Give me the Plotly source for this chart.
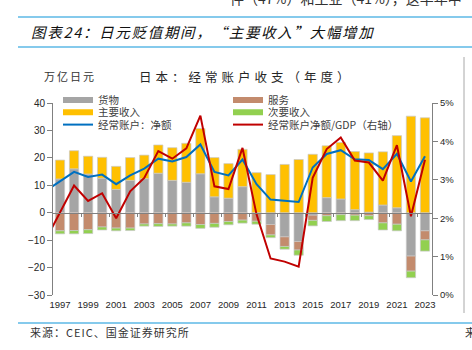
import plotly.graph_objects as go

# ---------------- data (trillion yen; ratio in %) ----------------
years = list(range(1997, 2024))
goods = [12.3, 16.0, 14.1, 12.6, 8.5, 11.8, 12.4, 14.4, 11.8, 11.1, 14.2, 5.8, 5.3, 9.5,
         -0.3, -4.3, -8.8, -10.5, -0.9, 5.5, 5.0, 1.1, 0.2, 2.8, 1.8, -15.8, -6.6]
services = [-6.6, -6.5, -6.2, -5.2, -5.6, -5.6, -4.1, -4.0, -4.1, -3.7, -4.3, -3.9, -3.2, -2.7,
            -2.8, -3.8, -3.5, -3.1, -1.9, -1.1, -0.7, -0.9, -1.1, -3.7, -4.2, -5.5, -3.3]
primary = [6.9, 6.6, 6.5, 7.6, 8.4, 8.3, 8.6, 10.3, 11.9, 14.2, 16.5, 14.3, 12.6, 13.6,
           14.6, 13.9, 17.6, 19.4, 21.3, 18.9, 20.6, 21.2, 21.6, 19.4, 26.3, 35.2, 34.6]
secondary = [-1.1, -1.2, -1.4, -1.1, -1.0, -0.9, -0.8, -1.0, -0.8, -1.2, -1.4, -1.4, -1.2, -1.1,
             -1.1, -1.0, -1.0, -1.9, -2.0, -2.1, -2.2, -2.0, -1.4, -2.6, -2.4, -2.4, -4.1]

line_years = list(range(1996, 2024))
ca_net = [8.0, 11.5, 14.9, 13.0, 13.9, 10.4, 13.6, 16.1, 19.7, 18.7, 20.3, 24.9, 14.9, 13.6,
          19.4, 10.4, 4.8, 4.4, 3.9, 16.5, 21.4, 22.8, 19.5, 19.2, 15.9, 21.5, 11.4, 20.6]
ca_gdp = [1.45, 2.15, 2.85, 2.45, 2.65, 2.0, 2.7, 3.05, 3.75, 3.55, 3.82, 4.67, 2.83, 2.76,
          3.83, 2.1, 0.95, 0.87, 0.74, 3.05, 3.8, 4.1, 3.5, 3.45, 2.98, 3.9, 2.05, 3.52]

label_years = years[::2]
boundaries = [y + 0.5 for y in years[1::2]]

names = ["货物", "服务", "主要收入", "次要收入", "经常账户：净额", "经常账户净额/GDP（右轴）"]
C_GOODS, C_SERV, C_PRIM, C_SEC = "#A5A5A5", "#C38B6D", "#FFC000", "#92D050"
C_CA, C_RATIO = "#0070C0", "#C00000"

# ---------------- geometry helpers ----------------
L, R, T, B = 53, 432, 103, 295
W, H = 472, 350
def fx(px):
    return (px - L) / (R - L)
def fy(py):
    return (B - py) / (B - T)

CJK = "Noto Sans CJK SC"
NUM = "Liberation Sans, Noto Sans CJK SC"

fig = go.Figure()
bar_line = dict(color="#C8C8C8", width=0.7)
for vals, col in [(goods, C_GOODS), (primary, C_PRIM), (services, C_SERV), (secondary, C_SEC)]:
    fig.add_trace(go.Bar(x=years, y=vals, width=0.66, showlegend=False,
                         marker=dict(color=col, line=bar_line), hoverinfo="skip"))

fig.add_trace(go.Scatter(x=line_years, y=ca_net, mode="lines", name=names[4],
                         line=dict(color=C_CA, width=2), legend="legend3"))
fig.add_trace(go.Scatter(x=line_years, y=ca_gdp, mode="lines", name=names[5],
                         line=dict(color=C_RATIO, width=2), xaxis="x2", yaxis="y2",
                         legend="legend6"))

# legend swatches for the bar series
for nm, col, lg in [(names[0], C_GOODS, "legend"), (names[2], C_PRIM, "legend2"),
                    (names[1], C_SERV, "legend4"), (names[3], C_SEC, "legend5")]:
    fig.add_trace(go.Scatter(x=[None], y=[None], mode="lines", name=nm,
                             line=dict(color=col, width=6), legend=lg))

axis_col = "#808080"
legend_rows = [100, 112.3, 124.6]
legend_cols = [58, 228]
leg = {}
keys = ["legend", "legend2", "legend3", "legend4", "legend5", "legend6"]
for i, k in enumerate(keys):
    col_px = legend_cols[i // 3]
    row_py = legend_rows[i % 3]
    leg[k] = dict(x=fx(col_px), y=fy(row_py), xanchor="left", yanchor="middle",
                  bgcolor="rgba(0,0,0,0)", font=dict(family=CJK, size=10.5, color="#404040"),
                  itemwidth=30)

fig.update_layout(
    width=W, height=H,
    margin=dict(l=L, r=W - R, t=T, b=H - B),
    paper_bgcolor="white", plot_bgcolor="white",
    barmode="relative",
    font=dict(family=NUM, size=10, color="#262626"),
    xaxis=dict(range=[1996.5, 2023.5], tickvals=label_years, ticks="", showline=False,
               showgrid=False, zeroline=False, tickfont=dict(size=9.5), ticklabelstandoff=2),
    xaxis2=dict(range=[1996.5, 2023.5], overlaying="x", anchor="free", position=30 / 70,
                tickvals=boundaries, ticks="outside", ticklen=3, tickcolor=axis_col,
                showticklabels=False, showline=True, linecolor=axis_col, linewidth=1.3,
                showgrid=False, zeroline=False),
    yaxis=dict(range=[-30, 40], dtick=10, tick0=0, ticks="outside", ticklen=5,
               tickcolor=axis_col, showline=True, linecolor=axis_col, showgrid=False,
               zeroline=False, tickfont=dict(size=10)),
    yaxis2=dict(range=[0, 5], dtick=1, tick0=0, ticksuffix="%", ticks="outside", ticklen=5,
                tickcolor=axis_col, showline=True, linecolor=axis_col, showgrid=False,
                zeroline=False, overlaying="y", side="right", anchor="x",
                tickfont=dict(size=9.5)),
    **leg,
)

anns = [
    dict(x=fx(228), y=fy(-2), text="件（47%）和工业（41%），这半年中", size=14, color="#333333"),
    dict(x=fx(29), y=fy(32),
         text='<span style="letter-spacing:1.7px">图表24：日元贬值期间，“主要收入”大幅增加</span>',
         size=14.5, color="#111111", style="italic"),
    dict(x=fx(137), y=fy(77),
         text='<span style="letter-spacing:4px">日本：经常账户收支（年度）</span>',
         size=12.5, color="#262626"),
    dict(x=fx(42), y=fy(76), text='<span style="letter-spacing:2px">万亿日元</span>',
         size=11, color="#333333"),
    dict(x=fx(28), y=fy(332), text='<span style="letter-spacing:1px">来源：CEIC、国金证券研究所</span>',
         size=11, color="#333333"),
    dict(x=fx(463), y=fy(332), text="来源", size=11, color="#333333"),
]
for a in anns:
    fig.add_annotation(xref="paper", yref="paper", x=a["x"], y=a["y"], text=a["text"],
                       showarrow=False, xanchor="left", yanchor="middle",
                       font=dict(family=CJK, size=a["size"], color=a["color"],
                                 style=a.get("style", "normal")))

for py in (17, 47, 323):
    fig.add_shape(type="line", xref="paper", yref="paper", x0=fx(18), x1=fx(472),
                  y0=fy(py), y1=fy(py), line=dict(color="#5DB8E6", width=1.5))
fig.add_shape(type="line", xref="paper", yref="paper", x0=fx(464), x1=fx(464),
              y0=fy(57), y1=fy(313), line=dict(color="#A8A8A8", width=1))

fig.write_html("out.html")
